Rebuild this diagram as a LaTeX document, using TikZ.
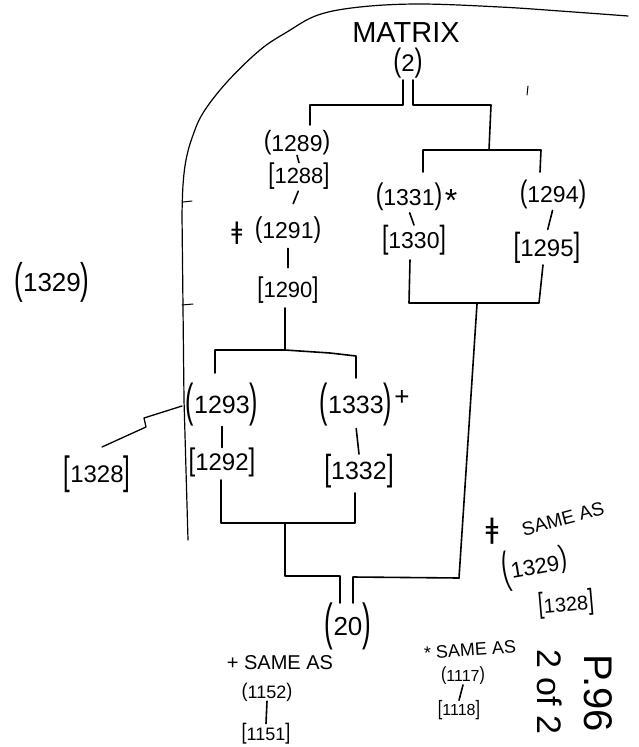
\documentclass[tikz,border=0pt]{standalone}
\usepackage{graphicx}
\usepackage{fontspec}
\setmainfont{Liberation Sans}
\newfontfamily\dv{DejaVu Sans}
\newcommand\FS[1]{\fontsize{#1}{#1}\selectfont}
\newcommand\RZ[2]{\raisebox{\fpeval{0.358-0.26*#1}em}{\scalebox{1}[#1]{#2}}}
\newcommand\PP[3]{{\FS{#1}\RZ{#2}{(}#3\RZ{#2}{)}}}
\newcommand\BB[3]{{\FS{#1}\RZ{#2}{[}#3\RZ{#2}{]}}}
\begin{document}
\begin{tikzpicture}[x=1pt,y=-1pt,
  ln/.style={line width=1.6pt,line cap=round,line join=round},
  fine/.style={line width=1pt,line cap=round,line join=round},
  t/.style={inner sep=0pt,outer sep=0pt}]
\useasboundingbox (0,0) rectangle (638,747);
\fill[white] (0,0) rectangle (638,747);

% big outline
\draw[fine,line width=1.2pt] plot[smooth,tension=0.6] coordinates {(628,16) (560,11) (500,7) (420,4) (360,7) (318,15) (287,32) (260,50) (227,82) (203,113) (192,138) (186,160) (183,185) (182,215)} -- (184,400) -- (188,540);
\draw[fine] (183,202) -- (192,201);
\draw[fine] (182,305) -- (193,304);
\draw[fine] (528,86) -- (527,95);

% nodes
\node[t,font=\FS{29}] (matrix) at (406,33) {MATRIX};
\node[t] (n2) at (408,63) {\PP{24}{1.35}{2}};
\node[t] (n1289) at (297,143) {\PP{23}{1.15}{1289}};
\node[t] (n1288) at (299,176) {\BB{22}{1.3}{1288}};
\node[t,font=\dv\FS{24}] (dag1) at (237,233) {ǂ};
\node[t] (n1291) at (288,230) {\PP{23}{1.25}{1291}};
\node[t] (n1290) at (288,290) {\BB{22}{1.3}{1290}};
\node[t] (n1331) at (409,197) {\PP{23}{1.3}{1331}};
\node[t,font=\FS{32}] (star1) at (451,200) {*};
\node[t] (n1330) at (414,240) {\BB{23}{1.4}{1330}};
\node[t] (n1294) at (553,194) {\PP{23}{1.35}{1294}};
\node[t] (n1295) at (547,248) {\BB{24}{1.4}{1295}};
\node[t] (n1293) at (222,405) {\PP{25}{1.85}{1293}};
\node[t] (n1333) at (356,405) {\PP{25}{1.85}{1333}};
\node[t,font=\FS{26}] (plus1) at (402,398) {+};
\node[t] (n1292) at (222,462) {\BB{24}{1.3}{1292}};
\node[t] (n1332) at (359,471) {\BB{25}{1.45}{1332}};
\node[t] (n1328a) at (97,474) {\BB{24}{1.65}{1328}};
\node[t] (n1329a) at (52,282) {\PP{26}{1.65}{1329}};
\node[t] (n20) at (348,626) {\PP{26}{1.95}{20}};

% notes
\node[t,font=\FS{20}] (note1) at (280,663) {+ SAME AS};
\node[t] (n1152) at (267,692) {\PP{18}{1.1}{1152}};
\node[t] (n1151) at (266,734) {\BB{18}{1.25}{1151}};
\node[t,font=\FS{18},rotate=4] (note2) at (470,650) {* SAME AS};
\node[t] (n1117) at (463,676) {\PP{16}{1.2}{1117}};
\node[t] (n1118) at (459,710) {\BB{16}{1.3}{1118}};
\node[t,font=\dv\FS{28}] (dag2) at (492,531) {ǂ};
\node[t,font=\FS{19},rotate=15] (note3) at (563,519) {SAME AS};
\node[t,rotate=10] (n1329b) at (535,567) {{\FS{22}\RZ{2.0}{(}\kern1pt 1329\kern1pt\raisebox{0.15em}{\scalebox{1}[1.4]{)}}}};
\node[t,rotate=5] (n1328b) at (566,604) {\BB{20}{1.45}{1328}};
\node[t,font=\FS{40},rotate=-90] (page) at (598,693) {P.96};
\node[t,font=\FS{34},rotate=-90] (of) at (550,692) {2 of 2};

% connectors (bracket tree)
\draw[ln] (310,125) -- (310,105) -- (403,105) -- (403,80);
\draw[ln] (413,80) -- (413,105) -- (491,105) -- (489,150);
\draw[ln] (423,172) -- (423,150) -- (541,150) -- (540,172);
\draw[ln] (n1289.south) -- (n1288.north);
\draw[ln,shorten <=2pt,shorten >=14pt] (n1288.south) -- (n1291.north);
\draw[ln,shorten <=5pt,shorten >=9pt] (n1291.south) -- (n1290.north);
\draw[ln,shorten <=2pt] (n1331.south) -- (n1330.north);
\draw[ln,shorten <=2pt,shorten >=3pt] (n1294.south) -- (n1295.north);
\draw[ln] (285,308) -- (285,350);
\draw[ln] (215,373) -- (215,350) -- (285,350) -- (330,353) -- (356,356) -- (356,378);
\draw[ln] (n1293.south) -- (n1292.north);
\draw[ln,shorten <=2pt] (n1333.south) -- (n1332.north);
\draw[ln] (410,260) -- (409,303) -- (539,303) -- (543,265);
\draw[ln] (477,304) -- (459,578);
\draw[ln] (221,480) -- (221,523) -- (355,523) -- (355,493);
\draw[ln] (285,523) -- (285,576) -- (340,576) -- (340,603);
\draw[ln] (353,603) -- (353,577) -- (459,578);
\draw[fine,line width=1.3pt] (182,406) -- (144,418) -- (146,427) -- (102,447);
\draw[ln] (n1152.south) -- (n1151.north);
\draw[ln] (n1117.south) -- (n1118.north);
\end{tikzpicture}
\end{document}
